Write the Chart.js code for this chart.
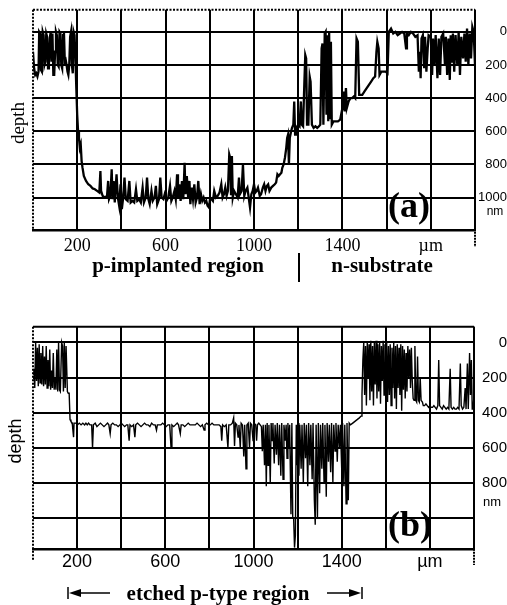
<!DOCTYPE html>
<html>
<head>
<meta charset="utf-8">
<script src="https://cdn.jsdelivr.net/npm/chart.js@4"></script>
<style>
  html, body { margin:0; padding:0; background:#fff; }
  #wrap { position:relative; width:507px; height:605px; overflow:hidden; background:#fff; }
  canvas { position:absolute; left:0; }
  .lbl { position:absolute; transform:translate(-50%,-50%); white-space:nowrap; line-height:1; color:#000; }
  .serifB { font-family:"Liberation Serif","DejaVu Serif",serif; font-weight:bold; }
</style>
</head>
<body>
<div id="wrap">
  <canvas id="chartA" width="507" height="262" style="top:0"></canvas>
  <canvas id="chartB" width="507" height="305" style="top:300px"></canvas>

  <div class="lbl" style="left:17px;top:123px;transform:translate(-50%,-50%) rotate(-90deg);font-family:'Liberation Serif',serif;font-size:19px;">depth</div>
  <div class="lbl" style="left:495px;top:211px;font-family:'Liberation Sans',sans-serif;font-size:12px;">nm</div>
  <div class="lbl serifB" style="left:409px;top:205px;font-size:36px;">(a)</div>
  <div class="lbl serifB" style="left:178px;top:265px;font-size:21px;">p-implanted region</div>
  <div style="position:absolute;left:298px;top:253px;width:2px;height:29px;background:#000;"></div>
  <div class="lbl serifB" style="left:382px;top:265px;font-size:21px;">n-substrate</div>

  <div class="lbl" style="left:15px;top:441px;transform:translate(-50%,-50%) rotate(-90deg);font-family:'Liberation Sans',sans-serif;font-size:18px;">depth</div>
  <div class="lbl" style="left:492px;top:501px;font-family:'Liberation Sans',sans-serif;font-size:13px;">nm</div>
  <div class="lbl serifB" style="left:410px;top:524px;font-size:36px;">(b)</div>
  <div class="lbl serifB" style="left:218px;top:593px;font-size:21px;">etched p-type region</div>
  <svg style="position:absolute;left:0;top:580px" width="507" height="25">
    <line x1="68" y1="7" x2="68" y2="19" stroke="#000" stroke-width="1.5"/>
    <polygon points="69,13 81,9 81,17" fill="#000"/>
    <line x1="80" y1="13" x2="110" y2="13" stroke="#000" stroke-width="1.5"/>
    <line x1="327" y1="13" x2="352" y2="13" stroke="#000" stroke-width="1.5"/>
    <polygon points="361,13 349,9 349,17" fill="#000"/>
    <line x1="362" y1="7" x2="362" y2="19" stroke="#000" stroke-width="1.5"/>
  </svg>
</div>
<script>
// ---------- DATA ----------
// x grid / tick positions (µm) and labels
const xGridValues = [0,200,400,600,800,1000,1200,1400,1600,1800,2000];
const xTickLabels = {200:'200', 600:'600', 1000:'1000', 1400:'1400', 1800:'\u00b5m'};
// depth grid values (nm)
const yGridValues = [0,200,400,600,800,1000];
const yTickLabelsA = ['0','200','400','600','800','1000'];
const yTickLabelsB = ['0','200','400','600','800'];

// panel (a): [position µm, depth nm]
const profileA = [
[0,120],[5,220],[10,260],[15,250],[20,270],[25,240],[28,0],[32,10],[36,230],[40,240],
[44,0],[48,20],[52,200],[56,180],[60,10],[64,30],[68,220],[72,200],[76,40],[80,0],
[84,180],[88,10],[92,260],[96,260],[100,120],[104,0],[108,20],[112,200],[116,210],[120,0],
[124,10],[128,200],[132,220],[136,20],[140,0],[144,180],[148,170],[152,200],[156,240],[160,260],
[164,200],[168,30],[172,0],[176,200],[180,250],[184,0],[188,20],[192,160],[196,340],[200,500],
[204,600],[208,640],[212,700],[216,680],[220,780],[224,820],[230,870],[240,900],[250,920],[260,930],
[270,945],[280,950],[290,960],[300,970],[305,840],[308,960],[315,990],[325,1000],[335,990],[340,900],
[344,1010],[350,990],[356,830],[360,1010],[365,900],[370,1030],[378,860],[384,1000],[390,1050],[396,920],
[402,1070],[408,1000],[414,880],[420,1010],[428,1020],[436,900],[442,1030],[450,1020],[458,1030],[466,950],
[472,1020],[480,1010],[488,1030],[496,940],[502,1030],[510,1000],[516,880],[522,1010],[528,1040],[536,960],
[542,1020],[550,1000],[556,930],[562,1040],[570,1010],[576,880],[582,1000],[590,1010],[596,980],[604,1020],
[612,1000],[620,930],[626,1020],[632,1000],[640,960],[646,1010],[652,860],[656,1000],[662,920],[668,1020],
[674,900],[680,1010],[686,790],[690,980],[696,870],[702,1000],[708,900],[712,1040],[718,940],[724,1010],
[730,920],[736,1030],[742,1000],[748,900],[754,1040],[760,980],[766,1020],[772,1000],[778,1030],[784,1020],
[790,1050],[796,1060],[802,1000],[808,1010],[814,1020],[820,960],[828,1000],[836,990],[844,970],[852,920],
[858,1000],[864,980],[870,940],[876,990],[882,960],[888,740],[892,760],[896,980],[900,750],[904,1000],
[910,960],[918,980],[926,1000],[932,880],[936,980],[944,960],[950,800],[956,990],[962,960],[970,940],
[976,1000],[982,1060],[988,980],[994,960],[1000,920],[1006,970],[1012,960],[1018,940],[1026,990],[1032,980],
[1040,940],[1046,920],[1052,960],[1058,930],[1064,920],[1070,960],[1078,940],[1086,930],[1094,920],[1100,910],
[1106,860],[1112,870],[1118,860],[1124,850],[1128,820],[1134,800],[1140,760],[1146,700],[1150,640],[1154,620],
[1158,800],[1162,640],[1168,600],[1172,580],[1178,560],[1182,420],[1186,620],[1190,580],[1196,570],[1200,560],
[1206,570],[1212,420],[1216,560],[1222,570],[1228,300],[1232,140],[1236,160],[1240,560],[1246,560],[1252,270],
[1256,300],[1262,560],[1270,580],[1278,570],[1286,580],[1294,570],[1300,560],[1306,100],[1310,70],[1314,560],
[1320,10],[1324,0],[1328,500],[1332,20],[1336,540],[1340,0],[1344,520],[1348,60],[1352,560],[1360,540],
[1370,540],[1380,540],[1390,530],[1400,460],[1406,360],[1410,480],[1416,340],[1420,460],[1428,420],[1436,400],
[1444,400],[1452,390],[1458,400],[1464,40],[1470,60],[1476,380],[1482,380],[1490,380],[1500,360],[1510,340],
[1520,320],[1530,300],[1540,280],[1548,270],[1554,120],[1558,60],[1564,100],[1568,260],[1576,240],[1586,240],
[1596,240],[1604,250],[1610,0],[1620,-20],[1630,10],[1640,0],[1650,20],[1660,10],[1670,0],[1680,10],
[1688,100],[1692,10],[1700,20],[1710,0],[1720,10],[1730,30],[1740,20],[1746,240],[1750,120],[1754,280],
[1758,40],[1764,20],[1770,220],[1774,30],[1780,240],[1786,100],[1790,20],[1800,30],[1806,260],[1810,40],
[1816,200],[1822,20],[1830,280],[1836,40],[1842,260],[1848,30],[1856,10],[1864,200],[1868,30],[1874,260],
[1880,40],[1886,290],[1890,20],[1896,180],[1900,10],[1906,240],[1912,20],[1920,200],[1926,0],[1932,260],
[1938,30],[1946,160],[1952,10],[1958,180],[1964,-20],[1970,200],[1976,10],[1982,160],[1988,-30],[1994,0],
[2000,200]
];

// panel (b): [position µm, depth nm]
const profileB = [
[0,180],[4,150],[8,260],[12,0],[16,220],[20,30],[24,250],[28,10],[32,230],[36,60],
[40,240],[44,20],[48,250],[52,80],[56,240],[60,20],[64,260],[68,100],[72,250],[76,40],
[80,270],[84,160],[88,260],[92,60],[96,270],[100,200],[104,270],[108,40],[112,280],[116,0],
[120,270],[124,280],[130,0],[134,20],[138,280],[142,0],[146,260],[150,20],[156,280],[160,290],
[164,290],[168,440],[172,450],[178,460],[184,540],[186,460],[194,460],[202,470],[210,460],[218,470],
[226,460],[234,470],[240,460],[246,470],[252,460],[258,470],[266,470],[270,600],[274,470],[282,460],
[290,480],[298,470],[306,460],[314,470],[322,480],[330,470],[338,460],[344,470],[350,520],[354,470],
[362,460],[370,470],[378,470],[386,480],[394,470],[400,460],[408,470],[416,480],[424,470],[430,470],
[436,560],[440,470],[448,480],[456,470],[462,540],[466,470],[474,460],[482,470],[490,480],[498,470],
[506,460],[514,470],[522,470],[530,480],[538,460],[546,470],[554,470],[560,500],[564,470],[572,470],
[580,470],[588,460],[596,470],[604,480],[612,470],[620,470],[626,600],[630,470],[638,480],[646,470],
[654,460],[660,470],[668,520],[672,470],[680,470],[688,480],[696,470],[704,460],[712,470],[720,470],
[728,470],[736,470],[744,460],[752,470],[760,480],[768,470],[776,500],[780,470],[788,460],[796,470],
[804,470],[812,460],[820,470],[828,470],[836,470],[844,470],[852,480],[856,560],[860,470],[868,480],
[876,470],[884,600],[888,470],[896,470],[904,460],[910,430],[914,590],[918,460],[924,470],[930,540],
[934,470],[940,600],[944,460],[950,470],[956,650],[960,470],[966,720],[970,470],[976,460],[982,600],
[986,460],[992,470],[998,560],[1002,460],[1010,470],[1014,560],[1018,470],[1024,460],[1030,470],[1036,480],
[1040,620],[1044,470],[1050,700],[1054,470],[1058,820],[1062,460],[1066,700],[1070,470],[1076,800],[1080,460],
[1084,560],[1088,460],[1094,690],[1098,470],[1104,640],[1108,460],[1114,700],[1118,470],[1124,760],[1128,460],
[1134,780],[1138,470],[1144,560],[1148,470],[1152,660],[1156,460],[1160,600],[1164,470],[1170,980],[1174,460],
[1178,1000],[1182,1000],[1186,1170],[1190,1100],[1194,470],[1198,700],[1202,460],[1206,760],[1210,470],[1216,720],
[1220,470],[1226,800],[1230,460],[1236,660],[1240,470],[1246,820],[1250,460],[1256,700],[1260,470],[1266,780],
[1270,460],[1276,900],[1280,1040],[1284,470],[1290,1000],[1294,460],[1300,860],[1304,470],[1310,720],[1314,460],
[1320,800],[1324,470],[1330,880],[1334,460],[1340,680],[1344,470],[1350,740],[1354,460],[1360,800],[1364,470],
[1370,620],[1374,460],[1380,680],[1384,470],[1390,600],[1394,470],[1400,720],[1404,460],[1410,820],[1414,470],
[1420,920],[1424,460],[1430,900],[1434,460],[1440,470],[1450,460],[1460,450],[1470,440],[1480,430],[1488,420],
[1492,300],[1496,100],[1500,0],[1504,300],[1508,20],[1512,360],[1516,0],[1520,200],[1524,10],[1528,330],
[1532,-10],[1536,280],[1540,20],[1544,360],[1548,0],[1552,240],[1556,-10],[1560,320],[1564,10],[1568,280],
[1572,0],[1576,350],[1580,20],[1584,220],[1588,-10],[1592,300],[1596,10],[1600,260],[1604,0],[1608,340],
[1612,20],[1616,300],[1620,10],[1624,360],[1628,30],[1632,260],[1636,0],[1640,320],[1644,20],[1648,380],
[1652,10],[1656,260],[1660,30],[1664,300],[1668,10],[1672,390],[1676,20],[1680,270],[1684,40],[1688,320],
[1692,60],[1696,280],[1700,20],[1704,200],[1708,40],[1712,260],[1716,30],[1720,220],[1724,320],[1728,330],
[1732,20],[1736,330],[1740,340],[1744,80],[1748,330],[1752,340],[1756,200],[1760,330],[1766,340],[1770,360],
[1776,360],[1782,350],[1788,360],[1794,370],[1800,360],[1806,370],[1812,370],[1818,360],[1824,370],[1830,380],
[1836,360],[1840,100],[1844,360],[1850,370],[1856,380],[1862,360],[1868,370],[1874,380],[1880,370],[1886,380],
[1892,150],[1896,370],[1902,380],[1908,370],[1914,380],[1920,380],[1926,370],[1932,380],[1938,120],[1942,360],
[1948,380],[1954,370],[1960,260],[1964,380],[1970,120],[1974,380],[1980,60],[1984,300],[1988,100],[1992,380],
[1996,380],[2000,300]
];

// ---------- CHARTS ----------
const framePlugin = {
  id: 'frame',
  afterDraw(chart, args, o) {
    const ctx = chart.ctx;
    const {left, right, top, bottom} = chart.chartArea;
    ctx.save();
    ctx.strokeStyle = '#000';
    function seg(x1, y1, x2, y2, w, dash) {
      ctx.lineWidth = w;
      ctx.setLineDash(dash || []);
      ctx.beginPath(); ctx.moveTo(x1, y1); ctx.lineTo(x2, y2); ctx.stroke();
    }
    seg(left, top, left, bottom + o.leftExt, 2, [2, 1.5]);
    seg(left, top, right, top, o.topW, o.topDash);
    seg(right, top, right, bottom + o.rightExt, 2, [2, 1]);
    ctx.restore();
  }
};

function makeChart(id, profile, o) {
  const data = profile.map(p => ({x: p[0], y: p[1]}));
  return new Chart(document.getElementById(id), {
    type: 'line',
    data: { datasets: [{ data, borderColor: '#000', borderWidth: o.lineW, pointRadius: 0, tension: 0, fill: false }] },
    plugins: [framePlugin],
    options: {
      responsive: false, animation: false, devicePixelRatio: 1,
      layout: { padding: { left: 33, top: o.top, right: 0, bottom: 0 } },
      plugins: { legend: { display: false }, tooltip: { enabled: false },
        frame: { leftExt: o.leftExt, rightExt: o.rightExt, topW: o.topW, topDash: o.topDash } },
      scales: {
        x: {
          type: 'linear', min: 0, max: 2000,
          afterBuildTicks: s => { s.ticks = xGridValues.map(v => ({value: v})); },
          afterFit: s => { s.height = o.xH; },
          ticks: { autoSkip: false, maxRotation: 0, padding: o.xPad, color: '#000',
            font: { family: o.xFont, size: 18 },
            callback: v => xTickLabels[v] || '' },
          grid: { drawTicks: false, color: c => (c.tick && c.tick.value === 0) ? 'rgba(0,0,0,0)' : '#000', lineWidth: 2 },
          border: { display: true, color: '#000', width: 2.5 }
        },
        y: {
          type: 'linear', position: 'right', reverse: true, min: o.yMin, max: o.yMax,
          afterBuildTicks: s => { s.ticks = yGridValues.map(v => ({value: v})); },
          afterFit: s => { s.width = o.yW; },
          ticks: { autoSkip: false, padding: 2, color: '#000', crossAlign: 'far',
            font: { family: 'Liberation Sans', size: o.yFs },
            callback: (v, i) => o.yLabels[i] !== undefined ? o.yLabels[i] : '' },
          grid: { drawTicks: false, color: '#000', lineWidth: 2 },
          border: { display: false }
        }
      }
    }
  });
}

makeChart('chartA', profileA, { top: 8, xH: 32, yW: 32, yMin: -133, yMax: 1196, lineW: 2.3,
  xFont: 'Liberation Serif', xPad: 5, yFs: 13, yLabels: yTickLabelsA,
  leftExt: 0, rightExt: 17, topW: 2, topDash: [2, 1.5] });
makeChart('chartB', profileB, { top: 26.7, xH: 56, yW: 33, yMin: -90, yMax: 1178, lineW: 1.4,
  xFont: 'Liberation Sans', xPad: 2, yFs: 15, yLabels: yTickLabelsB,
  leftExt: 12, rightExt: 16, topW: 2, topDash: [] });
</script>
</body>
</html>
